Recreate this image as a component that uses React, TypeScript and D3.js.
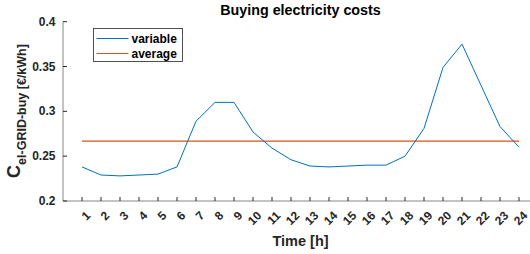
import React from "react";
import * as d3 from "d3";

const hours = d3.range(1, 25);
const variableCost = [0.238, 0.229, 0.228, 0.229, 0.230, 0.238, 0.289, 0.310, 0.310, 0.277, 0.259, 0.246,
  0.239, 0.238, 0.239, 0.240, 0.240, 0.250, 0.281, 0.349, 0.375, 0.329, 0.283, 0.260];
const averageCost = 0.2667;
const yTicks = [0.2, 0.25, 0.3, 0.35, 0.4];
const seriesNames = ["variable", "average"];

const W = 530, H = 254;
const FONT = "'Liberation Sans', Arial, Helvetica, sans-serif";

export default function App() {
  const x = d3.scaleLinear().domain([0, 25]).range([63, 538]);
  const y = d3.scaleLinear().domain([0.2, 0.4]).range([201, 21.7]);
  const line = d3.line<number>().x((_, i) => x(hours[i])).y((d) => y(d));
  const avgLine = d3.line<number>().x((h) => x(h)).y(() => y(averageCost));
  const axisColor = "#262626";
  return (
    <svg width={W} height={H} style={{ position: "absolute", left: 0, top: 0, background: "#fff" }} fontFamily={FONT}>
      <rect width={W} height={H} fill="#fff" />
      {/* axes */}
      <line x1={63} x2={W} y1={201} y2={201} stroke="#888" strokeWidth={1} />
      <line x1={63} x2={63} y1={21.7} y2={201} stroke="#888" strokeWidth={1} />
      {hours.map((h) => (
        <g key={h}>
          <line x1={x(h)} x2={x(h)} y1={201} y2={197} stroke={axisColor} strokeWidth={1} />
          <text
            transform={`translate(${x(h) + 7},${214}) rotate(-45)`}
            textAnchor="end"
            dominantBaseline="middle"
            fontSize={12}
            fontWeight="bold"
            fill={axisColor}
          >
            {h}
          </text>
        </g>
      ))}
      {yTicks.map((t) => (
        <g key={t}>
          <line x1={63} x2={67} y1={y(t)} y2={y(t)} stroke={axisColor} strokeWidth={1} />
          <text x={55.5} y={y(t)} textAnchor="end" dominantBaseline="central" fontSize={12} fontWeight="bold" fill={axisColor}>
            {String(t)}
          </text>
        </g>
      ))}
      {/* series */}
      <path d={avgLine([1, 24]) || ""} fill="none" stroke="#D95319" strokeWidth={1.2} />
      <path d={line(variableCost) || ""} fill="none" stroke="#0072BD" strokeWidth={1} />
      {/* title */}
      <text x={300.5} y={15} textAnchor="middle" fontSize={14.3} fontWeight="bold" fill="#000">
        Buying electricity costs
      </text>
      {/* x label */}
      <text x={300.5} y={246} textAnchor="middle" fontSize={14.5} fontWeight="bold" fill={axisColor}>
        Time [h]
      </text>
      {/* y label */}
      <text transform={`translate(20,111) rotate(-90)`} textAnchor="middle" fontWeight="bold" fill={axisColor} fontSize={12.5}>
        <tspan fontSize={18}>C</tspan>
        <tspan dy={6}>el-GRID-buy [€/kWh]</tspan>
      </text>
      {/* legend */}
      <rect x={93.5} y={28.5} width={89} height={33} fill="#fff" stroke="#262626" strokeWidth={0.8} />
      {seriesNames.map((n, i) => (
        <g key={n}>
          <line x1={96.5} x2={128.5} y1={38.5 + i * 15} y2={38.5 + i * 15} stroke={i === 0 ? "#0072BD" : "#D95319"} strokeWidth={1} />
          <text x={131.5} y={38.5 + i * 15} dominantBaseline="central" fontSize={12} fontWeight="bold" fill="#000">
            {n}
          </text>
        </g>
      ))}
    </svg>
  );
}
